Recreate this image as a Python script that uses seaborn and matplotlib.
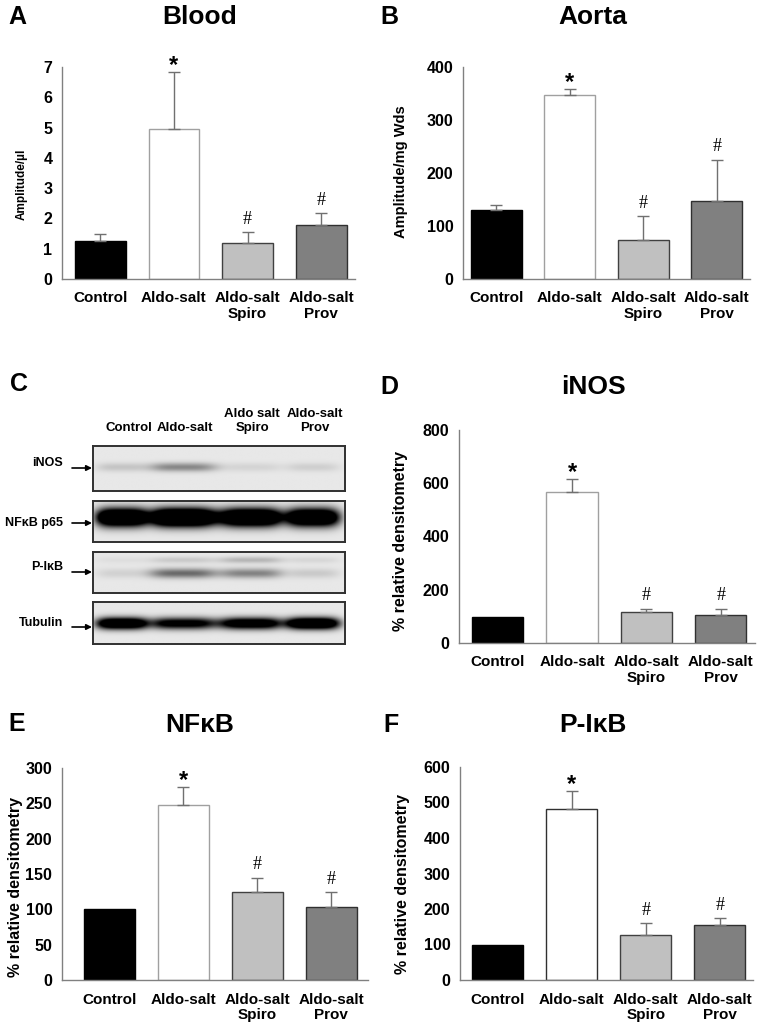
import matplotlib
matplotlib.use("Agg")
import matplotlib.pyplot as plt
import numpy as np
import pandas as pd
import seaborn as sns

W, H = 759, 1028

# ---------------------------------------------------------------------------
GROUPS = ["Control", "Aldo-salt", "Aldo-salt\nSpiro", "Aldo-salt\nProv"]
MARKS  = ["", "*", "#", "#"]
COLORS = ["#000000", "#ffffff", "#c0c0c0", "#808080"]
EDGES  = ["#000000", "#a0a0a0", "#404040", "#303030"]

blood_mean = [1.24, 4.95, 1.19, 1.78]
blood_err  = [0.24, 1.89, 0.35, 0.40]
aorta_mean = [130, 347, 74, 148]
aorta_err  = [10, 11, 45, 77]
inos_mean  = [97, 567, 115, 104]
inos_err   = [0, 49, 14, 25]
nfkb_mean  = [100, 248, 125, 104]
nfkb_err   = [0, 25, 20, 20]
pikb_mean  = [100, 482, 127, 155]
pikb_err   = [0, 51, 33, 19]

# western blot (panel C): relative band darkness per lane
BLOT_LANES  = ["Control", "Aldo-salt", "Aldo salt\nSpiro", "Aldo-salt\nProv"]
BLOT_ROWS   = ["iNOS", "NFκB p65", "P-IκB", "Tubulin"]
inos_bands    = [0.14, 0.38, 0.08, 0.10]
nfkb_bands    = [1.8, 2.0, 1.8, 1.7]
pikb_bands    = [0.09, 0.50, 0.40, 0.12]
pikb_upper    = [0.04, 0.12, 0.20, 0.07]
tubulin_bands = [1.5, 1.1, 1.3, 1.6]

LANE_X     = [0.112, 0.355, 0.625, 0.870]
LANE_HALFW = [0.100, 0.135, 0.125, 0.105]


def px_rect(l, t, r, b):
    return [l / W, 1 - b / H, (r - l) / W, (b - t) / H]


def bar_panel(fig, rect, means, errs, ylim, yticks, xlim, ylabel, ylab_x, ylab_y, ylab_size,
              edges=EDGES):
    ax = fig.add_axes(px_rect(*rect))
    df = pd.DataFrame({"group": GROUPS, "value": means})
    sns.barplot(data=df, x="group", y="value", hue="group", palette=COLORS,
                legend=False, width=0.69, errorbar=None, saturation=1, ax=ax)
    for patch, ec in zip(ax.patches, edges):
        patch.set_edgecolor(ec)
        patch.set_linewidth(1.0)

    idx = [i for i, e in enumerate(errs) if e > 0]
    ax.errorbar(idx, [means[i] for i in idx],
                yerr=[[0] * len(idx), [errs[i] for i in idx]],
                fmt="none", ecolor="#707070", elinewidth=1.0, capsize=4.5, capthick=1.0, zorder=3)

    for i, m in enumerate(MARKS):
        if not m:
            continue
        top = means[i] + errs[i]
        if m == "*":
            ax.annotate(m, (i, top), xytext=(0, 0), textcoords="offset points",
                        ha="center", va="baseline", fontsize=17, fontweight="bold")
        else:
            ax.annotate(m, (i, top), xytext=(0, 6), textcoords="offset points",
                        ha="center", va="baseline", fontsize=13,
                        family=["Liberation Serif", "DejaVu Serif"])

    ax.set_ylim(*ylim)
    ax.set_xlim(*xlim)
    ax.set_yticks(yticks)
    sns.despine(ax=ax)
    for s in ("left", "bottom"):
        ax.spines[s].set_color("#808080")
        ax.spines[s].set_linewidth(1.0)
    ax.tick_params(axis="x", length=0, pad=9, labelsize=11, labelcolor="black")
    ax.tick_params(axis="y", length=3, width=1, color="#808080", pad=4, labelsize=11.5,
                   labelcolor="black")
    for lbl in ax.get_xticklabels() + ax.get_yticklabels():
        lbl.set_fontweight("bold")
    for lbl in ax.get_xticklabels():
        lbl.set_linespacing(1.1)
    ax.set_xlabel("")
    ax.set_ylabel(ylabel, fontsize=ylab_size, fontweight="bold", color="black")
    l, t, r, b = rect
    ax.yaxis.set_label_coords((ylab_x - l) / (r - l), (b - ylab_y) / (b - t))
    return ax


def blot_image(bands, y0, h, upper=None, y_up=0.19):
    ny, nx = 80, 360
    yy, xx = np.mgrid[0:1:ny * 1j, 0:1:nx * 1j]
    img = np.full((ny, nx), 0.09)
    for c, w, v in zip(LANE_X, LANE_HALFW, bands):
        img += v * np.exp(-np.abs((xx - c) / w) ** 4) * np.exp(-((yy - y0) / h) ** 2)
    if upper is not None:
        for c, w, v in zip(LANE_X, LANE_HALFW, upper):
            img += v * np.exp(-np.abs((xx - c) / w) ** 4) * np.exp(-((yy - y_up) / 0.08) ** 2)
    return np.clip(img, 0, 1)


def main():
    sns.set_style("white")
    plt.rcParams["font.family"] = ["Liberation Sans", "DejaVu Sans"]
    plt.rcParams["text.color"] = "black"
    plt.rcParams["axes.labelcolor"] = "black"

    fig = plt.figure(figsize=(W / 100, H / 100), dpi=100)

    # overlay in pixel coordinates for titles, panel letters and blot labels
    ov = fig.add_axes([0, 0, 1, 1])
    ov.set_xlim(0, W)
    ov.set_ylim(H, 0)
    ov.axis("off")
    ov.patch.set_alpha(0)

    for letter, x, y in [("A", 8, 17), ("B", 380, 17), ("C", 10, 384),
                         ("D", 380, 387), ("E", 8, 724), ("F", 383, 725)]:
        ov.text(x, y, letter, fontsize=18, fontweight="bold", ha="left", va="center")
    for title, x, y in [("Blood", 200, 17), ("Aorta", 593, 17), ("iNOS", 593, 387),
                        ("NFκB", 200, 725), ("P-IκB", 593, 725)]:
        ov.text(x, y, title, fontsize=19, fontweight="bold", ha="center", va="center")

    bar_panel(fig, (62, 67, 355, 279), blood_mean, blood_err, (0, 7), range(0, 8),
              (-0.52, 3.46), "Amplitude/µl", 28, 184, 8.5)
    bar_panel(fig, (463, 67, 750, 279), aorta_mean, aorta_err, (0, 400), range(0, 401, 100),
              (-0.45, 3.45), "Amplitude/mg Wds", 408, 172, 10.5)
    bar_panel(fig, (459, 430, 755, 643), inos_mean, inos_err, (0, 800), range(0, 801, 200),
              (-0.52, 3.46), "% relative densitometry", 408, 541, 11.5)
    bar_panel(fig, (62, 768, 368, 980), nfkb_mean, nfkb_err, (0, 300), range(0, 301, 50),
              (-0.64, 3.5), "% relative densitometry", 23, 887, 11.5)
    bar_panel(fig, (460, 767, 753, 980), pikb_mean, pikb_err, (0, 600), range(0, 601, 100),
              (-0.51, 3.45), "% relative densitometry", 410, 884, 11.5,
              edges=["#000000", "#303030", "#404040", "#303030"])

    # panel C: western blot
    lane_cx = [129, 185, 252, 315]
    for lab, cx in zip(BLOT_LANES, lane_cx):
        ov.text(cx, 434, lab, fontsize=9.5, fontweight="bold", ha="center", va="bottom",
                linespacing=1.25)

    boxes = [(446, 491), (501, 542), (552, 593), (602, 644)]
    images = [
        blot_image(inos_bands, 0.47, 0.10),
        blot_image(nfkb_bands, 0.40, 0.22),
        blot_image(pikb_bands, 0.52, 0.12, upper=pikb_upper),
        blot_image(tubulin_bands, 0.51, 0.14),
    ]
    label_y = [463, 523, 567, 623]
    arrow_y = [468, 523, 572, 627]
    for row, (t, b), img, ly, ay in zip(BLOT_ROWS, boxes, images, label_y, arrow_y):
        bax = fig.add_axes(px_rect(93, t, 345, b))
        bax.imshow(img, cmap="gray_r", vmin=0, vmax=1, aspect="auto", extent=[0, 1, 1, 0],
                   interpolation="bilinear")
        bax.set_xticks([])
        bax.set_yticks([])
        for s in bax.spines.values():
            s.set_color("#303030")
            s.set_linewidth(1.4)
            s.set_visible(True)
        ov.text(63, ly, row, fontsize=9, fontweight="bold", ha="right", va="center")
        ov.annotate("", xy=(92, ay), xytext=(72, ay),
                    arrowprops=dict(arrowstyle="-|>", color="black", lw=1.2,
                                    mutation_scale=8, shrinkA=0, shrinkB=0))

    fig.savefig("out.png", dpi=100)
    plt.close(fig)


if __name__ == "__main__":
    main()
